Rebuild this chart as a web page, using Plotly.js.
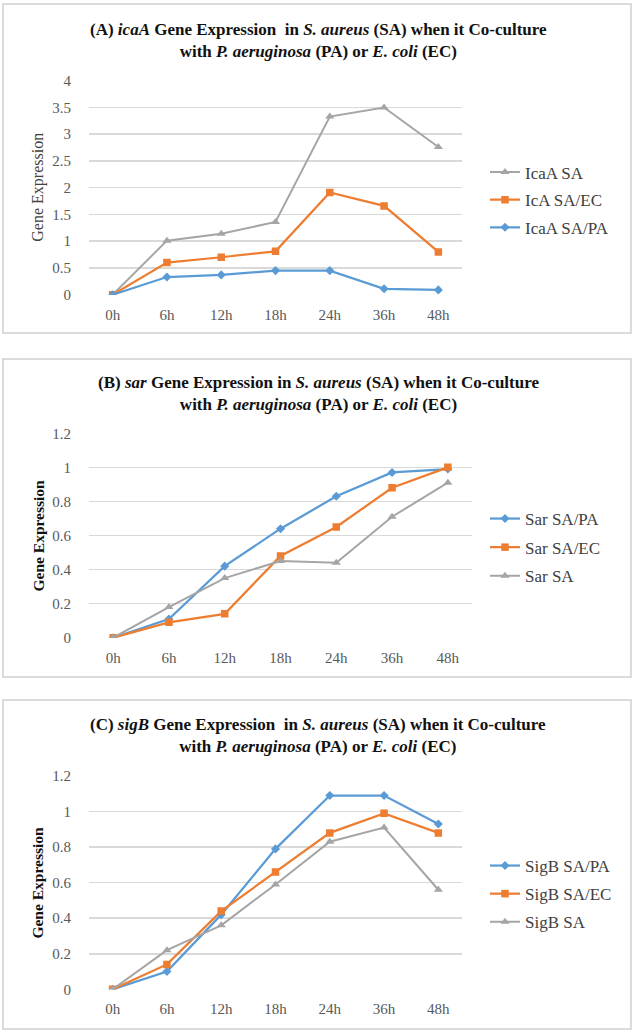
<!DOCTYPE html>
<html>
<head>
<meta charset="utf-8">
<script src="https://cdn.plot.ly/plotly-3.0.1.min.js"></script>
<style>html,body{margin:0;padding:0;background:#fff;}#chart{width:635px;height:1032px;}</style>
</head>
<body>
<div id="chart"></div>
<script>
// ---- data ----
const hours = ['0h', '6h', '12h', '18h', '24h', '36h', '48h'];

const icaA_SA   = [0, 1.01, 1.14, 1.36, 3.33, 3.50, 2.76];
const icaA_SAEC = [0, 0.60, 0.70, 0.81, 1.91, 1.66, 0.80];
const icaA_SAPA = [0, 0.33, 0.37, 0.45, 0.45, 0.11, 0.09];

const sar_SAPA = [0, 0.11, 0.42, 0.64, 0.83, 0.97, 0.99];
const sar_SAEC = [0, 0.09, 0.14, 0.48, 0.65, 0.88, 1.00];
const sar_SA   = [0, 0.18, 0.35, 0.45, 0.44, 0.71, 0.91];

const sigB_SAPA = [0, 0.10, 0.42, 0.79, 1.09, 1.09, 0.93];
const sigB_SAEC = [0, 0.14, 0.44, 0.66, 0.88, 0.99, 0.88];
const sigB_SA   = [0, 0.22, 0.36, 0.59, 0.83, 0.91, 0.56];

const namesA = ['IcaA SA', 'IcA SA/EC', 'IcaA SA/PA'];
const namesB = ['Sar SA/PA', 'Sar SA/EC', 'Sar SA'];
const namesC = ['SigB SA/PA', 'SigB SA/EC', 'SigB SA'];

const titleA = '(A) <i>icaA</i> Gene Expression  in <i>S. aureus</i> (SA) when it Co-culture<br>with <i>P. aeruginosa</i> (PA) or <i>E. coli</i> (EC)';
const titleB = '(B) <i>sar</i> Gene Expression in <i>S. aureus</i> (SA) when it Co-culture<br>with <i>P. aeruginosa</i> (PA) or <i>E. coli</i> (EC)';
const titleC = '(C) <i>sigB</i> Gene Expression  in <i>S. aureus</i> (SA) when it Co-culture<br>with <i>P. aeruginosa</i> (PA) or <i>E. coli</i> (EC)';
const yTitle = 'Gene Expression';

// ---- styles ----
const W = 635, H = 1032;
const px = v => v / W;
const py = v => 1 - v / H;
const BLUE = '#5B9BD5', ORANGE = '#ED7D31', GRAY = '#A5A5A5';
const FONT = '"Liberation Serif", Tinos, "Noto Serif", "DejaVu Serif", serif';
const style = {
  blue:   {line: {color: BLUE, width: 2.25},   marker: {symbol: 'diamond', size: 7, color: BLUE}},
  orange: {line: {color: ORANGE, width: 2.25}, marker: {symbol: 'square', size: 7.5, color: ORANGE}},
  gray:   {line: {color: GRAY, width: 2},      marker: {symbol: 'triangle-up', size: 8, color: GRAY}}
};

function tr(y, name, st, ax, leg) {
  return Object.assign({
    type: 'scatter', mode: 'lines+markers', x: hours, y: y, name: name,
    xaxis: 'x' + ax, yaxis: 'y' + ax, legend: leg, legendgroup: name
  }, JSON.parse(JSON.stringify(style[st])));
}

const data = [
  tr(icaA_SA, namesA[0], 'gray', '', 'legend'),
  tr(icaA_SAEC, namesA[1], 'orange', '', 'legend'),
  tr(icaA_SAPA, namesA[2], 'blue', '', 'legend'),
  tr(sar_SAPA, namesB[0], 'blue', '2', 'legend2'),
  tr(sar_SAEC, namesB[1], 'orange', '2', 'legend2'),
  tr(sar_SA, namesB[2], 'gray', '2', 'legend2'),
  tr(sigB_SAPA, namesC[0], 'blue', '3', 'legend3'),
  tr(sigB_SAEC, namesC[1], 'orange', '3', 'legend3'),
  tr(sigB_SA, namesC[2], 'gray', '3', 'legend3')
];

function xax(x0, x1, anchor) {
  return {domain: [px(x0), px(x1)], anchor: anchor, type: 'category', showgrid: false, zeroline: false, showline: false,
    ticks: 'outside', ticklen: 6, tickcolor: 'rgba(0,0,0,0)',
    tickfont: {family: FONT, size: 15, color: '#595959'}, fixedrange: true};
}
function yax(y0, y1, rng, dt, anchor) {
  return {domain: [py(y1), py(y0)], anchor: anchor, range: rng, dtick: dt, showgrid: true, gridcolor: '#D9D9D9', gridwidth: 1.5,
    zeroline: false, showline: false, ticks: 'outside', ticklen: 14, tickcolor: 'rgba(0,0,0,0)',
    tickfont: {family: FONT, size: 15, color: '#595959'}, fixedrange: true};
}
function leg(yc, gap) {
  return {x: px(485), xanchor: 'left', y: py(yc), yanchor: 'middle', bgcolor: 'rgba(0,0,0,0)',
    font: {family: FONT, size: 17, color: '#404040'}, tracegroupgap: gap, traceorder: 'grouped',
    itemwidth: 30};
}
function panel(y0, y1) {
  return {type: 'rect', xref: 'paper', yref: 'paper', x0: px(3), x1: px(631), y0: py(y0), y1: py(y1),
    line: {color: '#D0D0D0', width: 1.5}};
}
function ttl(text, yc) {
  return {text: text, xref: 'paper', yref: 'paper', x: px(318), y: py(yc), xanchor: 'center', yanchor: 'middle',
    showarrow: false, font: {family: FONT, size: 17, color: '#111111', weight: 'bold'}, align: 'center'};
}
function ytt(text, yc, bold, color, size) {
  return {text: bold ? '<b>' + text + '</b>' : text, xref: 'paper', yref: 'paper', x: px(38), y: py(yc),
    xanchor: 'center', yanchor: 'middle', textangle: -90, showarrow: false,
    font: {family: FONT, size: size, color: color}};
}

const layout = {
  width: W, height: H, margin: {l: 0, r: 0, t: 0, b: 0},
  paper_bgcolor: '#fff', plot_bgcolor: '#fff', showlegend: true,
  xaxis: xax(89, 462, 'y'), yaxis: yax(80.7, 294.7, [0, 4], 0.5, 'x'),
  xaxis2: xax(89, 472, 'y2'), yaxis2: yax(433.3, 637.7, [0, 1.2], 0.2, 'x2'),
  xaxis3: xax(89, 462, 'y3'), yaxis3: yax(776, 989.3, [0, 1.2], 0.2, 'x3'),
  legend: leg(200, 2.5), legend2: leg(547.5, 3.5), legend3: leg(894, 3),
  shapes: [panel(4, 333), panel(359, 677), panel(700, 1029)],
  annotations: [
    ttl(titleA, 41), ttl(titleB, 393.5), ttl(titleC, 735),
    ytt(yTitle, 187.7, false, '#404040', 16), ytt(yTitle, 535.5, true, '#111111', 15.5), ytt(yTitle, 882.6, true, '#111111', 15.5)
  ]
};

Plotly.newPlot('chart', data, layout, {displayModeBar: false, staticPlot: true});
</script>
</body>
</html>
